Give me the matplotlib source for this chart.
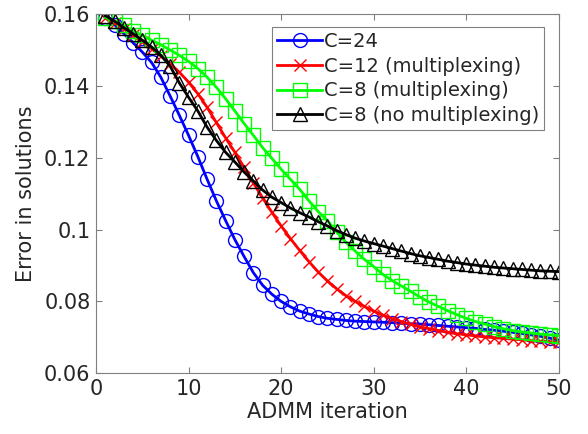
import matplotlib
matplotlib.use('Agg')
from matplotlib import pyplot as plt
import numpy as np

iters = np.arange(1, 51)

c24 = [0.1590, 0.1570, 0.1545, 0.1520, 0.1494, 0.1465, 0.1424, 0.1372, 0.1318, 0.1262,
       0.1203, 0.1140, 0.1080, 0.1025, 0.0972, 0.0925, 0.0880, 0.0845, 0.0820, 0.0800,
       0.0785, 0.0773, 0.0765, 0.0758, 0.0753, 0.0750, 0.0747, 0.0745, 0.0744, 0.0743,
       0.0742, 0.0741, 0.0739, 0.0738, 0.0737, 0.0735, 0.0733, 0.0731, 0.0729, 0.0727,
       0.0725, 0.0722, 0.0720, 0.0717, 0.0714, 0.0711, 0.0707, 0.0703, 0.0698, 0.0692]

c12_mux = [0.1590, 0.1575, 0.1558, 0.1540, 0.1522, 0.1503, 0.1483, 0.1462, 0.1438, 0.1410,
           0.1378, 0.1340, 0.1298, 0.1255, 0.1215, 0.1173, 0.1130, 0.1088, 0.1048, 0.1010,
           0.0975, 0.0942, 0.0911, 0.0882, 0.0857, 0.0835, 0.0816, 0.0800, 0.0786, 0.0773,
           0.0762, 0.0752, 0.0744, 0.0736, 0.0729, 0.0724, 0.0719, 0.0714, 0.0710, 0.0707,
           0.0704, 0.0701, 0.0699, 0.0697, 0.0695, 0.0693, 0.0691, 0.0689, 0.0688, 0.0686]

c8_mux = [0.1590, 0.1580, 0.1568, 0.1553, 0.1540, 0.1527, 0.1514, 0.1500, 0.1485, 0.1468,
          0.1448, 0.1424, 0.1396, 0.1364, 0.1330, 0.1295, 0.1262, 0.1228, 0.1198, 0.1168,
          0.1140, 0.1112, 0.1080, 0.1050, 0.1025, 0.0993, 0.0965, 0.0940, 0.0917, 0.0897,
          0.0875, 0.0858, 0.0843, 0.0828, 0.0812, 0.0798, 0.0786, 0.0774, 0.0763, 0.0753,
          0.0744, 0.0737, 0.0730, 0.0724, 0.0719, 0.0715, 0.0712, 0.0709, 0.0707, 0.0705]

c8_nomux = [0.1595, 0.1580, 0.1562, 0.1545, 0.1527, 0.1508, 0.1485, 0.1455, 0.1408, 0.1368,
            0.1330, 0.1285, 0.1248, 0.1215, 0.1188, 0.1160, 0.1135, 0.1110, 0.1090, 0.1075,
            0.1060, 0.1047, 0.1035, 0.1022, 0.1010, 0.0997, 0.0986, 0.0976, 0.0968, 0.0961,
            0.0954, 0.0947, 0.0940, 0.0933, 0.0927, 0.0922, 0.0917, 0.0912, 0.0908, 0.0904,
            0.0901, 0.0898, 0.0895, 0.0893, 0.0891, 0.0889, 0.0887, 0.0885, 0.0884, 0.0883]

plt.rcParams['font.family'] = 'DejaVu Sans'
txt = '#262626'
edge = '#808080'

fig = plt.figure(figsize=(5.88, 4.34), dpi=100)
ax = fig.add_axes([0.1633, 0.1399, 0.787, 0.828])

ax.plot(iters, c24, '-o', color='b', lw=2, ms=10, mfc='none', mew=1, label='C=24')
ax.plot(iters, c12_mux, '-x', color='r', lw=2, ms=8, mew=1, label='C=12 (multiplexing)')
ax.plot(iters, c8_mux, '-s', color='#00ff00', lw=2, ms=9.5, mfc='none', mew=1, label='C=8 (multiplexing)')
ax.plot(iters, c8_nomux, '-^', color='k', lw=2, ms=10, mfc='none', mew=1, label='C=8 (no multiplexing)')

ax.set_xlim(0, 50)
ax.set_ylim(0.06, 0.16)
ax.set_xticks([0, 10, 20, 30, 40, 50])
ax.set_yticks([0.06, 0.08, 0.1, 0.12, 0.14, 0.16])
ax.set_yticklabels(['0.06', '0.08', '0.1', '0.12', '0.14', '0.16'])
ax.tick_params(direction='in', length=4, width=0.8, colors=edge, labelcolor=txt,
               labelsize=15, top=True, right=True, pad=4)
for s in ax.spines.values():
    s.set_color(edge)
    s.set_linewidth(0.8)

ax.set_xlabel('ADMM iteration', fontsize=15, color=txt, labelpad=2)
ax.set_ylabel('Error in solutions', fontsize=15, color=txt, labelpad=6)

leg = ax.legend(loc='upper right', bbox_to_anchor=(0.968, 0.964), fontsize=14,
                handlelength=2.3, handletextpad=0.1, borderpad=0.25, labelspacing=0.3,
                borderaxespad=0, fancybox=False, framealpha=1)
leg.get_frame().set_edgecolor(edge)
leg.get_frame().set_linewidth(0.8)
for t in leg.get_texts():
    t.set_color(txt)

fig.savefig('out.png', dpi=100)
